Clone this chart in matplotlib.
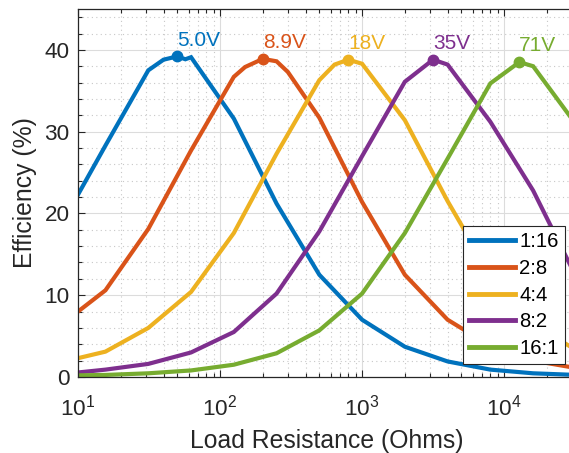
import numpy as np
import matplotlib.pyplot as plt
from matplotlib.ticker import MultipleLocator, LogLocator, NullFormatter

plt.rcParams['font.family'] = ['Liberation Sans', 'DejaVu Sans']
plt.rcParams['mathtext.default'] = 'regular'

# efficiency vs load resistance, one curve per series:parallel configuration
r_1_16 = [10, 15.6, 31.25, 40, 50, 57, 62.5, 125, 250, 500, 1000, 2000, 4000, 8000, 16000, 32000]
eff_1_16 = [22.3, 28.3, 37.5, 38.8, 39.2, 38.85, 39.1, 31.6, 21.2, 12.5, 7.0, 3.7, 1.9, 0.9, 0.45, 0.25]

r_2_8 = [10, 15.6, 31.25, 62.5, 125, 150, 200, 250, 300, 500, 1000, 2000, 4000, 8000, 16000, 32000]
eff_2_8 = [8.0, 10.6, 18.1, 27.7, 36.7, 37.9, 38.9, 38.6, 37.3, 31.7, 21.4, 12.5, 7.0, 3.8, 2.0, 1.1]

r_4_4 = [10, 15.6, 31.25, 62.5, 125, 250, 500, 640, 800, 1000, 2000, 4000, 8000, 16000, 32000]
eff_4_4 = [2.3, 3.1, 6.0, 10.4, 17.6, 27.3, 36.3, 38.2, 38.8, 38.3, 31.4, 21.5, 12.5, 6.5, 3.3]

r_8_2 = [10, 15.6, 31.25, 62.5, 125, 250, 500, 1000, 2000, 3160, 4000, 8000, 16000, 32000]
eff_8_2 = [0.55, 0.9, 1.6, 3.0, 5.5, 10.2, 17.8, 27.0, 36.1, 38.8, 38.2, 31.2, 22.8, 12.3]

r_16_1 = [10, 15.6, 31.25, 62.5, 125, 250, 500, 1000, 2000, 4000, 8000, 12800, 16000, 32000]
eff_16_1 = [0.2, 0.25, 0.45, 0.8, 1.5, 2.9, 5.7, 10.2, 17.6, 26.7, 35.9, 38.5, 38.0, 30.9]

labels = ['1:16', '2:8', '4:4', '8:2', '16:1']

# optimum points and the voltage written next to them
peak_r = [50, 200, 800, 3160, 12800]
peak_eff = [39.2, 38.9, 38.8, 38.8, 38.5]
peak_text = ['5.0V', '8.9V', '18V', '35V', '71V']

colors = ['#0072BD', '#D95319', '#EDB120', '#7E2F8E', '#77AC30']
all_r = [r_1_16, r_2_8, r_4_4, r_8_2, r_16_1]
all_eff = [eff_1_16, eff_2_8, eff_4_4, eff_8_2, eff_16_1]

fig = plt.figure(figsize=(5.69, 4.53), dpi=100)
ax = fig.add_axes([0.1371, 0.1678, 0.875, 0.8124])

for r, e, c, lab in zip(all_r, all_eff, colors, labels):
    ax.plot(r, e, color=c, lw=3.0, label=lab, solid_joinstyle='miter')

for pr, pe, c, txt in zip(peak_r, peak_eff, colors, peak_text):
    ax.plot(pr, pe, 'o', color=c, markersize=7.5)
    ax.text(pr, pe + 2.0, txt, color=c, fontsize=15, ha='left', va='center')

ax.set_xscale('log')
ax.set_xlim(10, 32000)
ax.set_ylim(0, 45)
ax.yaxis.set_major_locator(MultipleLocator(10))
ax.yaxis.set_minor_locator(MultipleLocator(2))
ax.xaxis.set_minor_locator(LogLocator(base=10, subs=np.arange(2, 10)))
ax.xaxis.set_minor_formatter(NullFormatter())

ax.grid(True, which='major', color='#dcdcdc', lw=0.8, ls='-')
ax.grid(True, which='minor', color='#c8c8c8', lw=0.8, ls=(0, (1, 3)))
ax.set_axisbelow(True)

ax.tick_params(which='both', direction='in', top=True, right=True, colors='#262626',
               labelsize=16.2, width=0.8)
ax.tick_params(which='major', length=5)
ax.tick_params(which='minor', length=3)
ax.tick_params(axis='y', which='major', pad=6)
ax.tick_params(axis='x', which='major', pad=13)
for s in ax.spines.values():
    s.set_color('#262626')
    s.set_linewidth(0.9)

ax.set_xlabel('Load Resistance (Ohms)', fontsize=17.8, color='#262626', labelpad=6)
ax.set_ylabel('Efficiency (%)', fontsize=17.8, color='#262626', labelpad=5)

leg = ax.legend(loc='lower right', bbox_to_anchor=(0.978, 0.035), borderaxespad=0,
                fontsize=14.6, handlelength=2.3, handletextpad=0.2, labelspacing=0.38,
                borderpad=0.3, fancybox=False, framealpha=1, edgecolor='#262626')
leg.get_frame().set_linewidth(0.8)
for line in leg.get_lines():
    line.set_linewidth(3.5)

fig.savefig('out.png', dpi=100)
